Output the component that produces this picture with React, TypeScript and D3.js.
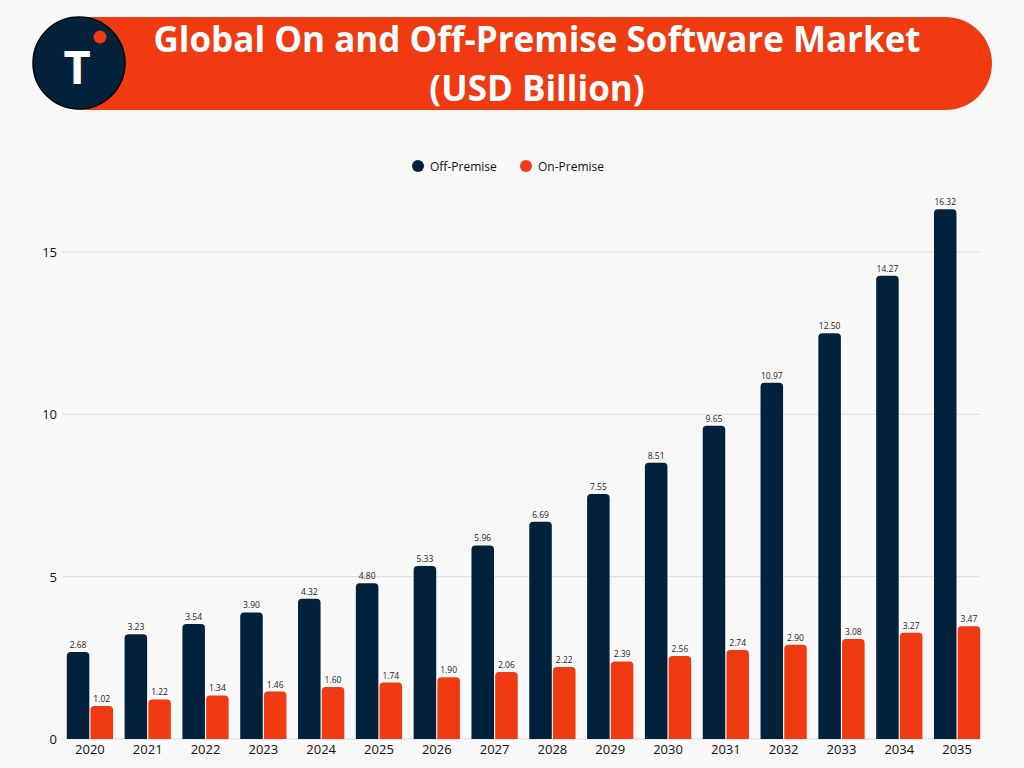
import * as d3 from "d3";

const years = ["2020", "2021", "2022", "2023", "2024", "2025", "2026", "2027", "2028", "2029", "2030", "2031", "2032", "2033", "2034", "2035"];
const offPremise = [2.68, 3.23, 3.54, 3.9, 4.32, 4.8, 5.33, 5.96, 6.69, 7.55, 8.51, 9.65, 10.97, 12.5, 14.27, 16.32];
const onPremise = [1.02, 1.22, 1.34, 1.46, 1.6, 1.74, 1.9, 2.06, 2.22, 2.39, 2.56, 2.74, 2.9, 3.08, 3.27, 3.47];
const yTicks = [0, 5, 10, 15];

const DARK = "#02223b";
const ORANGE = "#f03a12";
const W = 1024, H = 768;
const FONT = "'Open Sans', 'Noto Sans', sans-serif";

function topRounded(x: number, y: number, w: number, h: number, r: number) {
  const rr = Math.min(r, w / 2, h);
  return `M${x},${y + h}V${y + rr}Q${x},${y} ${x + rr},${y}H${x + w - rr}Q${x + w},${y} ${x + w},${y + rr}V${y + h}Z`;
}

export default function App() {
  const x0 = d3.scaleBand<string>().domain(years).range([61, 986]).paddingInner(0.2).paddingOuter(0.1);
  const x1 = d3.scaleBand<string>().domain(["off", "on"]).range([0, x0.bandwidth()]).paddingInner(0.05);
  const y = d3.scaleLinear().domain([0, 15]).range([739, 252]);

  const series = [
    { key: "off", name: "Off-Premise", color: DARK, values: offPremise, lx: 418 },
    { key: "on", name: "On-Premise", color: ORANGE, values: onPremise, lx: 526 }
  ];

  return (
    <svg width={W} height={H} style={{ position: "absolute", left: 0, top: 0, background: "#f8f8f8" }}>
      <rect x={0} y={0} width={W} height={H} fill="#f8f8f8" />
      {/* header */}
      <rect x={80} y={17} width={912} height={93} rx={46.5} fill={ORANGE} />
      <rect x={80} y={17} width={60} height={93} fill={ORANGE} />
      <circle cx={79} cy={63} r={46} fill={DARK} stroke="#000" strokeWidth={1.5} />
      <circle cx={100} cy={37} r={6.5} fill={ORANGE} />
      <text x={77} y={84} textAnchor="middle" fill="#fff" fontFamily={FONT} fontWeight={700} fontSize={47}>T</text>
      <text x={537} y={52} textAnchor="middle" fill="#fff" fontFamily={FONT} fontWeight={700} fontSize={35}>Global On and Off-Premise Software Market</text>
      <text x={537} y={101} textAnchor="middle" fill="#fff" fontFamily={FONT} fontWeight={700} fontSize={35}>(USD Billion)</text>

      {/* legend */}
      {series.map(s => (
        <g key={s.key} transform={`translate(${s.lx},166)`}>
          <circle r={6} fill={s.color} />
          <text x={12} y={4.5} fontFamily={FONT} fontSize={12} fill="#111">{s.name}</text>
        </g>
      ))}

      {/* grid + y axis */}
      {yTicks.map(t => (
        <g key={t}>
          <line x1={62} x2={980} y1={y(t)} y2={y(t)} stroke="#dcdcdc" strokeWidth={1} />
          <text x={57} y={y(t) + 5} textAnchor="end" fontFamily={FONT} fontSize={13} fill="#111">{t}</text>
        </g>
      ))}

      {/* bars */}
      {years.map((yr, i) => (
        <g key={yr} transform={`translate(${x0(yr)},0)`}>
          {series.map(s => {
            const v = s.values[i];
            const bx = x1(s.key)!;
            const bw = x1.bandwidth();
            return (
              <g key={s.key}>
                <path d={topRounded(bx, y(v), bw, y(0) - y(v), 4)} fill={s.color} />
                <text x={bx + bw / 2} y={y(v) - 4} textAnchor="middle" fontFamily={FONT} fontSize={8.5} fill="#222">{v.toFixed(2)}</text>
              </g>
            );
          })}
          <text x={x0.bandwidth() / 2} y={754} textAnchor="middle" fontFamily={FONT} fontSize={13} fill="#111">{yr}</text>
        </g>
      ))}
    </svg>
  );
}
